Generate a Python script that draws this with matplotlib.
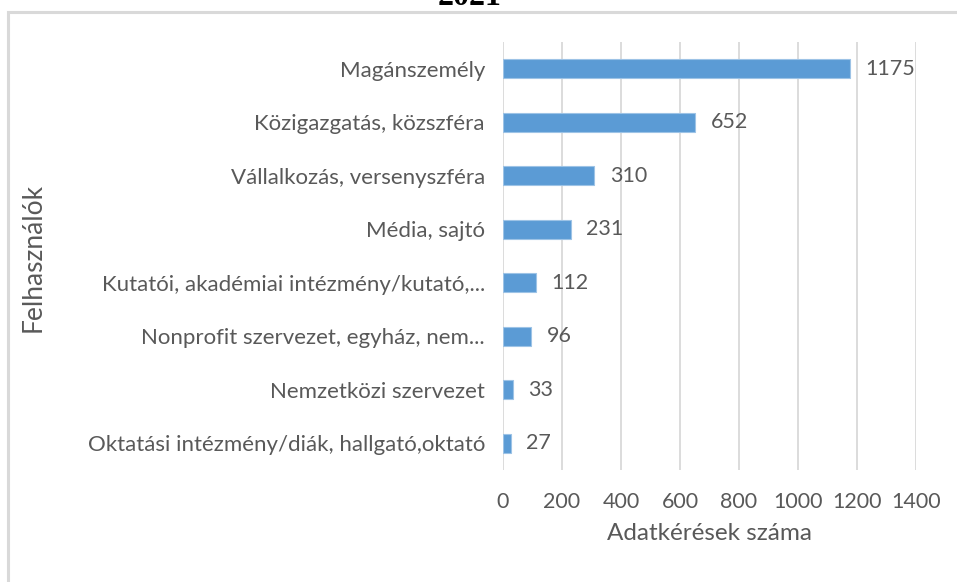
import matplotlib
matplotlib.use("Agg")
import matplotlib.pyplot as plt
from matplotlib.patches import Rectangle

categories = [
    "Magánszemély",
    "Közigazgatás, közszféra",
    "Vállalkozás, versenyszféra",
    "Média, sajtó",
    "Kutatói, akadémiai intézmény/kutató,...",
    "Nonprofit szervezet, egyház, nem...",
    "Nemzetközi szervezet",
    "Oktatási intézmény/diák, hallgató,oktató",
]
values = [1175, 652, 310, 231, 112, 96, 33, 27]
xticks = [0, 200, 400, 600, 800, 1000, 1200, 1400]
title = "2021"
xlabel = "Adatkérések száma"
ylabel = "Felhasználók"

plt.rcParams['font.family'] = ['Lato', 'DejaVu Sans']
gray = "#595959"

fig = plt.figure(figsize=(9.57, 5.82), dpi=100)
# outer chart border (extends beyond right and bottom edge)
fig.patches.append(Rectangle((8/957, -0.1), 1.2, 1 - 12/582 + 0.1,
                             transform=fig.transFigure, fill=False,
                             edgecolor="#d9d9d9", linewidth=2.2))
fig.text(470/957, 1 - 5/582, title, ha="center", va="baseline",
         fontsize=23, fontweight="bold", family="Liberation Serif", color="black")

ax = fig.add_axes([503/957, 1 - 470/582, (916 - 503)/957, (470 - 42)/582])
y = list(range(len(categories)))
ax.barh(y, values, height=0.35, color="#5B9BD5", edgecolor="#9DC3E6", linewidth=0.8, zorder=3)
for yi, v in zip(y, values):
    ax.annotate(str(v), (v, yi), xytext=(11, 0), textcoords="offset points",
                va="center", ha="left", fontsize=15.5, color=gray)
ax.set_ylim(len(categories) - 0.5, -0.5)
ax.set_xlim(0, 1400)
ax.set_xticks(xticks)
ax.set_xticklabels([str(t) for t in xticks], fontsize=15.5, color=gray)
ax.set_yticks(y)
ax.set_yticklabels(categories, fontsize=16, color=gray)
ax.tick_params(axis="both", length=0)
ax.tick_params(axis="x", pad=16)
ax.tick_params(axis="y", pad=13)
ax.grid(axis="x", color="#d9d9d9", linewidth=1.3, zorder=0)
for s in ax.spines.values():
    s.set_visible(False)
ax.set_xlabel(xlabel, fontsize=17.5, color=gray, labelpad=8)
fig.text(33/957, 1 - 257/582, ylabel, rotation=90, ha="center", va="center",
         fontsize=19, color=gray)

fig.savefig("out.png", dpi=100)
